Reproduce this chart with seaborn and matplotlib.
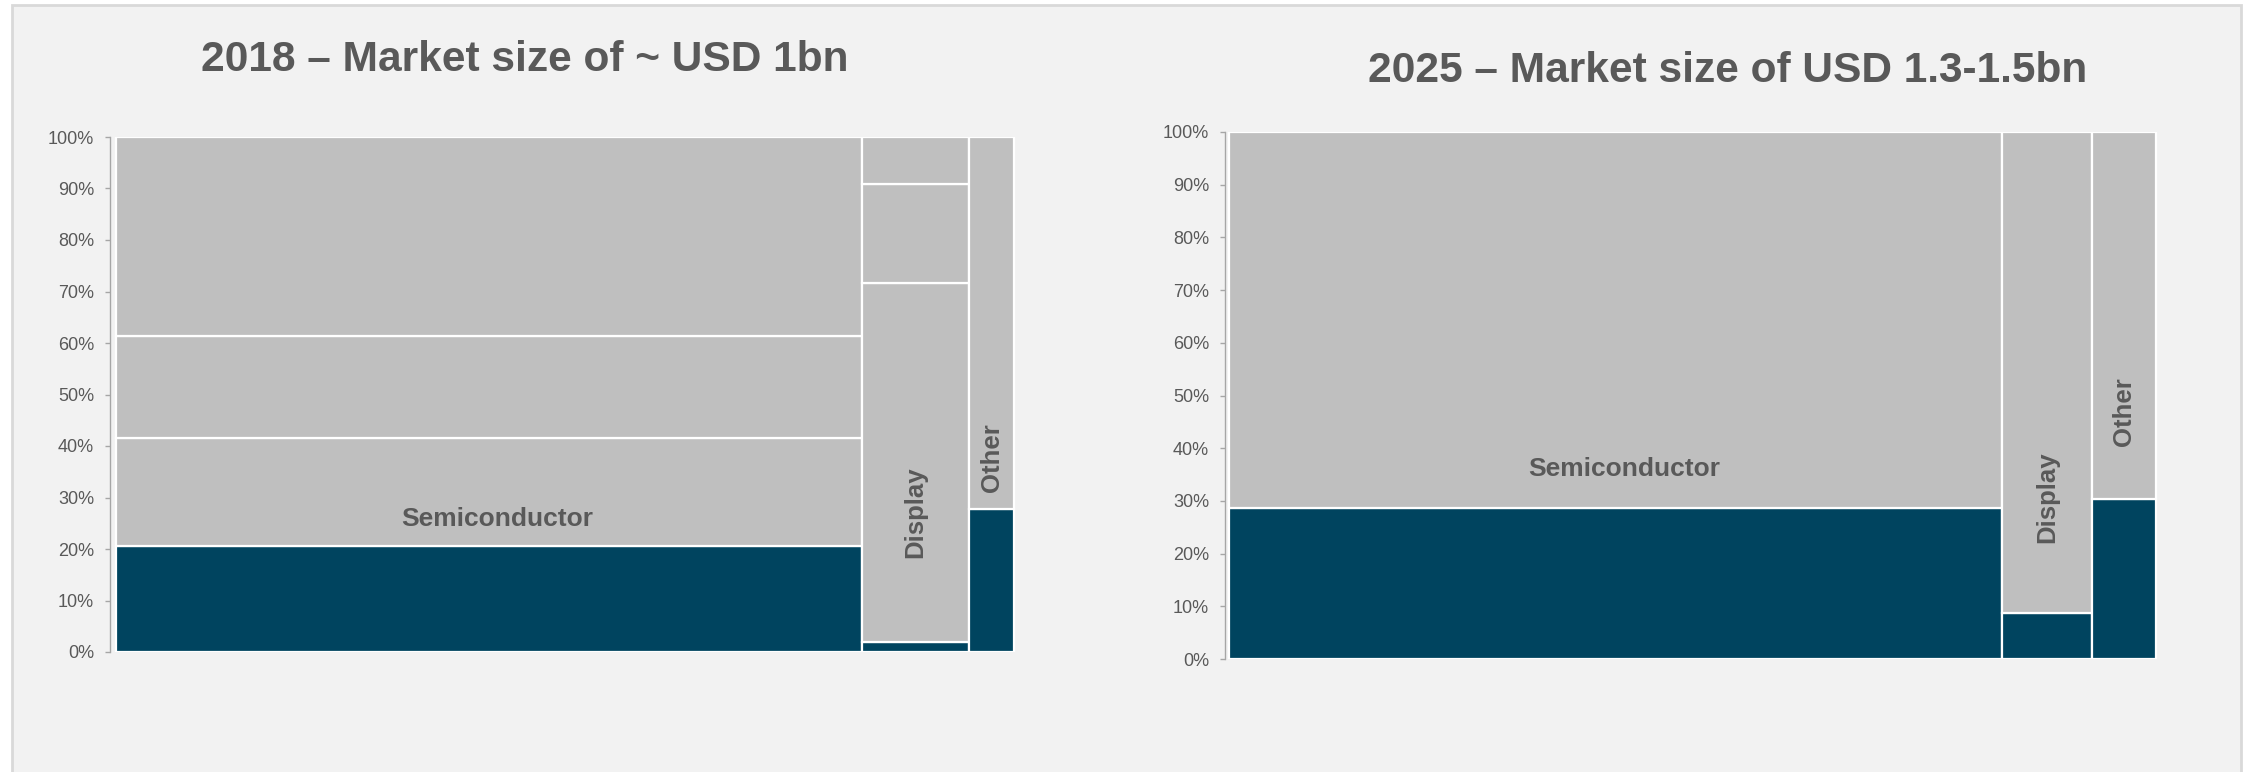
import numpy as np
import matplotlib
matplotlib.use("Agg")
import matplotlib.pyplot as plt
import matplotlib.patches as mpatches
from matplotlib.ticker import PercentFormatter
import seaborn as sns

##data (shares in %)
segments = ['Semiconductor', 'Display', 'Other']

titles = ['2018 \u2013 Market size of ~ USD 1bn',
          '2025 \u2013 Market size of USD 1.3-1.5bn']

##column widths (share of market)
widths_2018 = [83.1, 11.9, 5.0]
widths_2025 = [83.4, 9.7, 6.9]

##stacked pieces inside each column, bottom piece first
semi_2018 = [20.5, 21.0, 19.8, 38.7]
display_2018 = [2.0, 69.6, 19.3, 9.1]
other_2018 = [27.8, 72.2]

semi_2025 = [28.6, 71.4]
display_2025 = [8.7, 91.3]
other_2025 = [30.3, 69.7]

yticks = np.arange(0, 101, 10)

DARK = '#00445f'
GREY = '#bfbfbf'
TXT = '#595959'
AXC = '#a6a6a6'

sns.set_theme(style='white')
plt.rcParams['font.family'] = ['Liberation Sans', 'DejaVu Sans']

fig = plt.figure(figsize=(22.49, 7.72), dpi=100)
fig.patch.set_facecolor('white')
##light grey panel with a border, as in the slide
panel = mpatches.Rectangle((12/2249, -0.05), (2241-12)/2249, 1 - 5/772 + 0.05,
                           transform=fig.transFigure, facecolor='#f2f2f2',
                           edgecolor='#d9d9d9', linewidth=2, zorder=-10)
fig.patches.append(panel)

charts = [
    dict(widths=widths_2018, stacks=[semi_2018, display_2018, other_2018],
         rect=[110/2249, 120/772, 906/2249, 515/772], xlim=(-0.67, 100.22),
         title_xy=(525/2249, 1 - 71/772), semi_y=24.5,
         rot_y={'Display': 27.2, 'Other': 37.7}),
    dict(widths=widths_2025, stacks=[semi_2025, display_2025, other_2025],
         rect=[1225/2249, 113/772, 933/2249, 527/772], xlim=(-0.43, 100.22),
         title_xy=(1728/2249, 1 - 82/772), semi_y=34.7,
         rot_y={'Display': 30.7, 'Other': 46.9}),
]

for chart, title in zip(charts, titles):
    ax = fig.add_axes(chart['rect'])
    ax.set_facecolor('none')
    lefts = np.concatenate([[0], np.cumsum(chart['widths'])[:-1]])
    for seg, left, w, pieces in zip(segments, lefts, chart['widths'], chart['stacks']):
        bottoms = np.concatenate([[0], np.cumsum(pieces)[:-1]])
        colors = [DARK] + [GREY]*(len(pieces)-1)
        ax.bar([left]*len(pieces), pieces, width=w, bottom=bottoms, align='edge',
               color=colors, edgecolor='white', linewidth=1.6, zorder=2)
        ##segment labels
        if seg == 'Semiconductor':
            ax.text(left + w/2 + 0.9, chart['semi_y'], seg, ha='center', va='baseline',
                    fontsize=19, fontweight='bold', color=TXT, zorder=3)
        else:
            ax.text(left + w/2, chart['rot_y'][seg], seg, ha='center', va='center',
                    rotation=90, fontsize=18.5, fontweight='bold', color=TXT, zorder=3)

    ax.set_xlim(*chart['xlim'])
    ax.set_ylim(0, 100)
    ax.set_xticks([])
    ax.set_yticks(yticks)
    ax.yaxis.set_major_formatter(PercentFormatter(decimals=0))
    ax.tick_params(axis='y', left=True, length=3.5, width=1, color=AXC,
                   labelsize=13, labelcolor=TXT, pad=8)
    sns.despine(ax=ax, top=True, right=True, bottom=True)
    ax.spines['left'].set_color(AXC)
    ax.spines['left'].set_linewidth(1)
    ax.grid(False)

    fig.text(chart['title_xy'][0], chart['title_xy'][1], title, ha='center',
             va='baseline', fontsize=30.6, fontweight='bold', color=TXT)

fig.savefig('out.png', dpi=100)
